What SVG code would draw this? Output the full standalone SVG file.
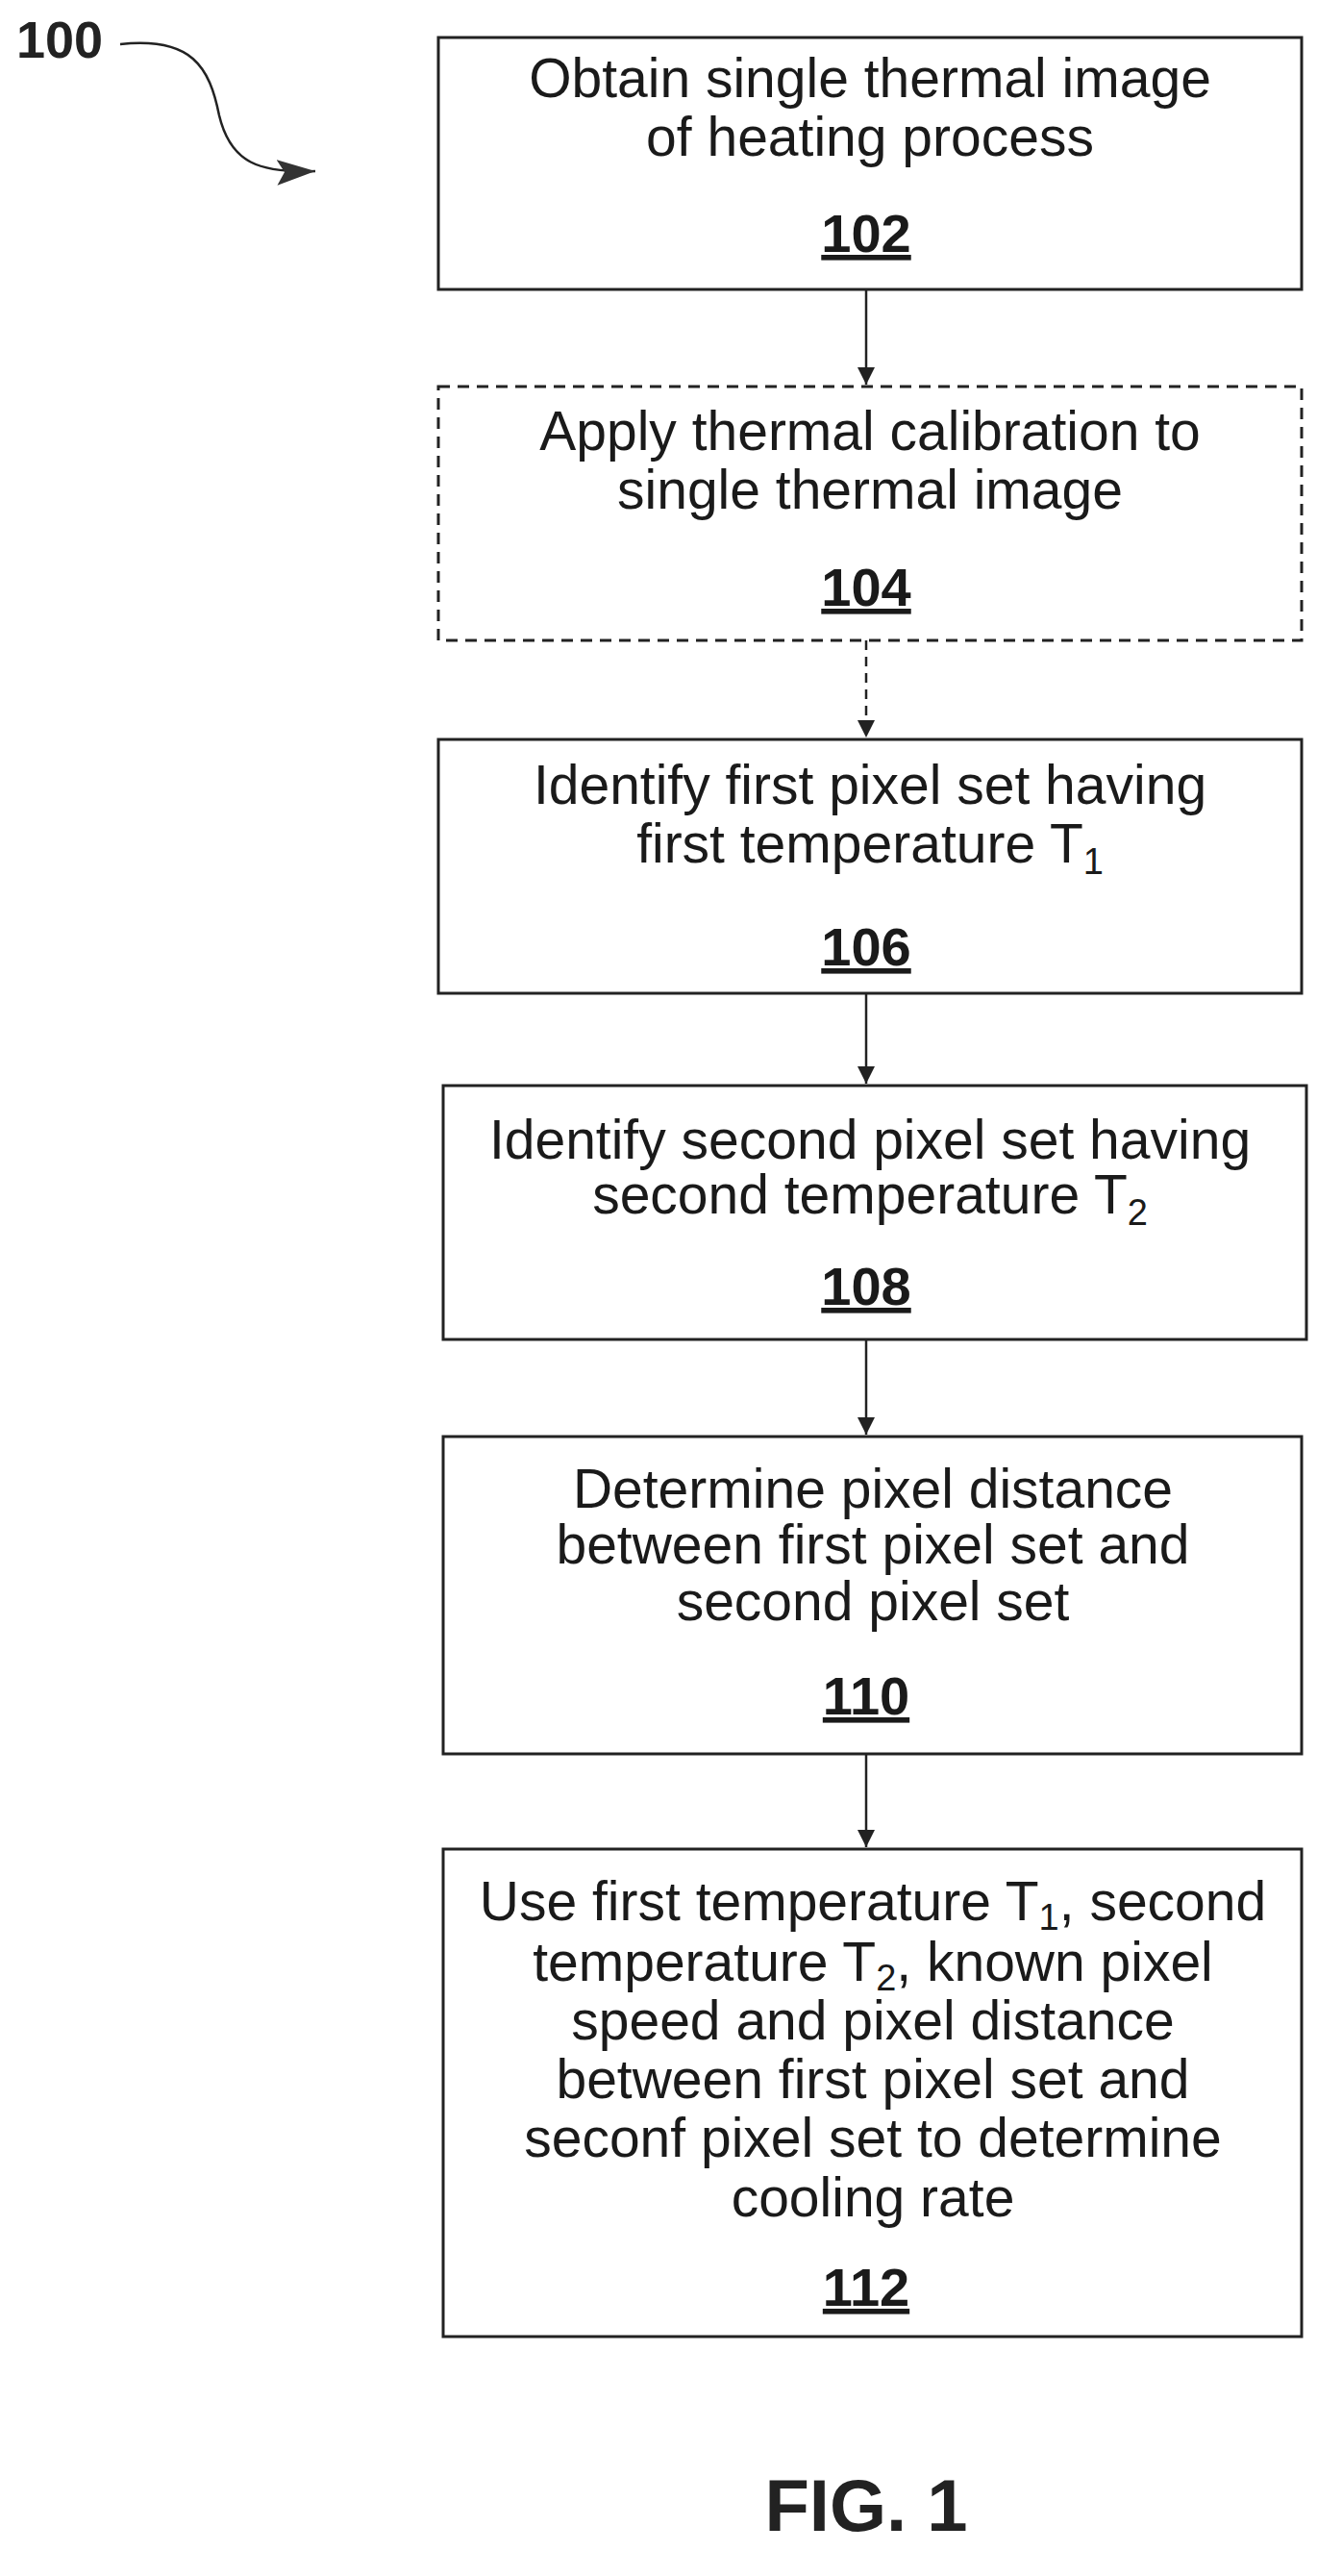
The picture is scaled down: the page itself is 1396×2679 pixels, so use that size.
<svg xmlns="http://www.w3.org/2000/svg" width="1396" height="2679" viewBox="0 0 1396 2679">
<style>
.box{fill:#fff;stroke:#222;stroke-width:3}
.dash{stroke-dasharray:12,8}
.t{font-family:"Liberation Sans",Arial,sans-serif;font-size:57px;fill:#1a1a1a;text-anchor:middle}
.n{font-family:"Liberation Sans",Arial,sans-serif;font-size:56px;font-weight:bold;fill:#1a1a1a;text-anchor:middle;text-decoration:underline}
.c{stroke:#222;stroke-width:2.5;fill:none}
</style>
<defs>
<marker id="ah" markerWidth="18" markerHeight="22" refX="10" refY="5" orient="auto" markerUnits="userSpaceOnUse" viewBox="0 0 10 10"><path d="M0,0 L10,5 L0,10 z" fill="#222"/></marker>
<marker id="ah2" markerWidth="40" markerHeight="28" refX="30" refY="10" orient="auto" markerUnits="userSpaceOnUse" viewBox="0 0 30 20"><path d="M0,0 L30,10 L0,20 L6,10 z" fill="#333"/></marker>
</defs>
<g id="label100">
<text x="17" y="60" style="font-family:'Liberation Sans',Arial,sans-serif;font-size:54px;font-weight:bold;fill:#222">100</text>
<path class="c" d="M125,46 C200,38 218,70 228,120 C240,170 270,180 328,178" marker-end="url(#ah2)"/>
</g>
<g id="connectors">
<line class="c" x1="901" y1="301" x2="901" y2="400" marker-end="url(#ah)"/>
<line class="c" x1="901" y1="666" x2="901" y2="767" marker-end="url(#ah)" style="stroke-dasharray:10,7"/>
<line class="c" x1="901" y1="1033" x2="901" y2="1127" marker-end="url(#ah)"/>
<line class="c" x1="901" y1="1393" x2="901" y2="1492" marker-end="url(#ah)"/>
<line class="c" x1="901" y1="1824" x2="901" y2="1921" marker-end="url(#ah)"/>
</g>
<g id="n102">
<rect class="box" x="456" y="39" width="898" height="262"/>
<text class="t" x="905" y="101">Obtain single thermal image</text>
<text class="t" x="905" y="162">of heating process</text>
<text class="n" x="901" y="262">102</text>
</g>
<g id="n104">
<rect class="box dash" x="456" y="402" width="898" height="264"/>
<text class="t" x="905" y="468">Apply thermal calibration to</text>
<text class="t" x="905" y="529">single thermal image</text>
<text class="n" x="901" y="630">104</text>
</g>
<g id="n106">
<rect class="box" x="456" y="769" width="898" height="264"/>
<text class="t" x="905" y="836">Identify first pixel set having</text>
<text class="t" x="905" y="897">first temperature T<tspan font-size="38" dy="12">1</tspan></text>
<text class="n" x="901" y="1004">106</text>
</g>
<g id="n108">
<rect class="box" x="461" y="1129" width="898" height="264"/>
<text class="t" x="905" y="1205">Identify second pixel set having</text>
<text class="t" x="905" y="1262">second temperature T<tspan font-size="38" dy="12">2</tspan></text>
<text class="n" x="901" y="1357">108</text>
</g>
<g id="n110">
<rect class="box" x="461" y="1494" width="893" height="330"/>
<text class="t" x="908" y="1568">Determine pixel distance</text>
<text class="t" x="908" y="1626">between first pixel set and</text>
<text class="t" x="908" y="1685">second pixel set</text>
<text class="n" x="901" y="1783">110</text>
</g>
<g id="n112">
<rect class="box" x="461" y="1923" width="893" height="507"/>
<text class="t" x="908" y="1997">Use first temperature T<tspan font-size="38" dy="10">1</tspan><tspan dy="-10">, second</tspan></text>
<text class="t" x="908" y="2060">temperature T<tspan font-size="38" dy="10">2</tspan><tspan dy="-10">, known pixel</tspan></text>
<text class="t" x="908" y="2121">speed and pixel distance</text>
<text class="t" x="908" y="2182">between first pixel set and</text>
<text class="t" x="908" y="2243">seconf pixel set to determine</text>
<text class="t" x="908" y="2305">cooling rate</text>
<text class="n" x="901" y="2398">112</text>
</g>
<text x="901" y="2632" style="font-family:'Liberation Sans',Arial,sans-serif;font-size:76px;font-weight:bold;fill:#222;text-anchor:middle">FIG. 1</text>
</svg>
